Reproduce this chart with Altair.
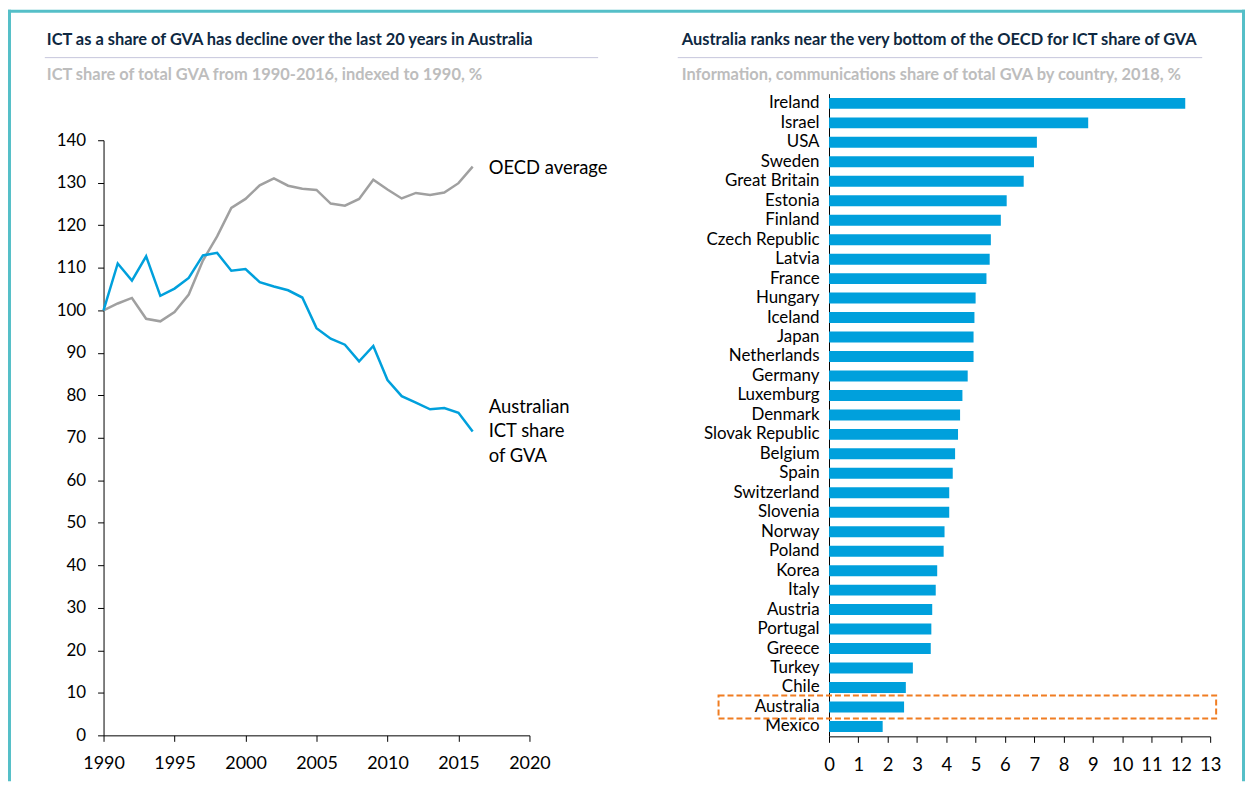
import altair as alt
import pandas as pd

# ---------------- data ----------------
years = list(range(1990, 2017))
oecd = [100, 101.6, 102.9, 98.0, 97.4, 99.6, 103.7, 111.7, 117.4, 124.1, 126.2,
        129.4, 131.0, 129.3, 128.6, 128.3, 125.1, 124.6, 126.2, 130.7, 128.4,
        126.3, 127.6, 127.1, 127.7, 129.9, 133.8]
australia = [100, 111.0, 107.0, 112.7, 103.4, 105.1, 107.6, 112.9, 113.5, 109.3,
             109.7, 106.6, 105.6, 104.7, 103.0, 95.8, 93.3, 91.9, 88.0, 91.6,
             83.6, 79.8, 78.3, 76.7, 77.0, 75.9, 71.5]
series_names = ["OECD average", "Australian ICT share of GVA"]

countries = ["Ireland", "Israel", "USA", "Sweden", "Great Britain", "Estonia",
             "Finland", "Czech Republic", "Latvia", "France", "Hungary", "Iceland",
             "Japan", "Netherlands", "Germany", "Luxemburg", "Denmark",
             "Slovak Republic", "Belgium", "Spain", "Switzerland", "Slovenia",
             "Norway", "Poland", "Korea", "Italy", "Austria", "Portugal", "Greece",
             "Turkey", "Chile", "Australia", "Mexico"]
shares = [12.15, 8.84, 7.09, 6.99, 6.64, 6.06, 5.86, 5.52, 5.48, 5.37, 5.00, 4.96,
          4.93, 4.93, 4.73, 4.55, 4.47, 4.40, 4.30, 4.22, 4.10, 4.10, 3.94, 3.91,
          3.69, 3.64, 3.52, 3.49, 3.47, 2.86, 2.62, 2.56, 1.83]
highlight = "Australia"

year_ticks = [1990, 1995, 2000, 2005, 2010, 2015, 2020]
idx_ticks = list(range(0, 150, 10))
share_ticks = list(range(0, 14))

left_title = "ICT as a share of GVA has decline over the last 20 years in Australia"
left_sub = "ICT share of total GVA from 1990-2016, indexed to 1990, %"
right_title = "Australia ranks near the very bottom of the OECD for ICT share of GVA"
right_sub = "Information, communications share of total GVA by country, 2018, %"

# ---------------- styles ----------------
W, H = 1243, 775
FONT = "Lato"
BLUE = "#00a0dc"
GREY = "#a0a0a0"
NAVY = "#0e2841"
SUBGREY = "#bdbdbd"
TEAL = "#55bfc8"
ORANGE = "#f07d22"

line_df = pd.DataFrame({
    "year": years * 2,
    "value": oecd + australia,
    "series": [series_names[0]] * len(years) + [series_names[1]] * len(years),
})
bar_df = pd.DataFrame({"country": countries, "share": shares})

axis_common = dict(grid=False, domainColor="black", tickColor="black",
                   labelColor="black", labelFont=FONT, title=None,
                   labelFlush=False, labelOverlap=False)

# ---------------- line panel ----------------
lines = alt.Chart(line_df).mark_line(strokeWidth=2.5).encode(
    x=alt.X("year:Q",
            scale=alt.Scale(domain=[1990, 2020], range=[96, 524], nice=False, zero=False),
            axis=alt.Axis(orient="bottom", offset=-46, values=year_ticks, format="d",
                          tickSize=6, labelFontSize=18, labelPadding=13, **axis_common)),
    y=alt.Y("value:Q",
            scale=alt.Scale(domain=[0, 140], range=[729, 131], nice=False),
            axis=alt.Axis(orient="left", offset=-96, values=idx_ticks,
                          tickSize=6, labelFontSize=17, labelPadding=12, **axis_common)),
    color=alt.Color("series:N", scale=alt.Scale(domain=series_names, range=[GREY, BLUE]),
                    legend=None),
)


def txt(s, x, y, size, color, weight="normal", align="left", baseline="middle", **kw):
    return alt.Chart(alt.InlineData(values=[{"t": s}])).mark_text(
        align=align, baseline=baseline, font=FONT, fontSize=size,
        fontWeight=weight, color=color, **kw
    ).encode(x=alt.value(x), y=alt.value(y), text="t:N")


def rule(x, x2, y, y2, color, width):
    return alt.Chart(alt.InlineData(values=[{"a": 1}])).mark_rule(
        color=color, strokeWidth=width
    ).encode(x=alt.value(x), x2=alt.value(x2), y=alt.value(y), y2=alt.value(y2))


oecd_lbl = txt(series_names[0], 483, 159, 18.5, "black")
aus_lbl = alt.Chart(alt.InlineData(values=[{"t": "Australian\nICT share\nof GVA"}])).mark_text(
    align="left", baseline="top", font=FONT, fontSize=18.5, color="black",
    lineBreak="\n", lineHeight=24.5
).encode(x=alt.value(483), y=alt.value(390), text="t:N")

line_panel = alt.layer(lines, oecd_lbl, aus_lbl)

# ---------------- bar panel ----------------
ysc = alt.Scale(domain=countries, range=[84.2, 729.8], paddingInner=0, paddingOuter=0)
bars = alt.Chart(bar_df).mark_bar(size=11, color=BLUE).encode(
    x=alt.X("share:Q",
            scale=alt.Scale(domain=[0, 13], range=[825, 1208], nice=False),
            axis=alt.Axis(orient="bottom", offset=-45, values=share_ticks,
                          tickSize=6, labelFontSize=18.5, labelPadding=13, **axis_common)),
    y=alt.Y("country:N", sort=countries, scale=ysc,
            axis=alt.Axis(orient="left", offset=-825, ticks=False, tickSize=0,
                          labelPadding=10, labelFontSize=17, labelLimit=300, **axis_common)),
)
box = alt.Chart(bar_df).transform_filter(
    alt.datum.country == highlight
).mark_bar(size=23, fillOpacity=0, stroke=ORANGE, strokeWidth=2, strokeDash=[6, 3]).encode(
    y=alt.Y("country:N", sort=countries, scale=ysc),
    x=alt.value(714), x2=alt.value(1214),
)
bar_panel = alt.layer(bars, box)

# ---------------- titles & frame ----------------
deco = [
    txt(left_title, 39, 30, 16.5, NAVY, weight="bold"),
    rule(37, 593, 48, 48, "#c6c6dc", 1),
    txt(left_sub, 39, 65, 16.5, SUBGREY, weight="bold"),
    txt(right_title, 677, 30, 16.5, NAVY, weight="bold"),
    rule(673, 1200, 48, 48, "#c6c6dc", 1),
    txt(right_sub, 677, 65, 16.5, SUBGREY, weight="bold"),
    rule(0, W, 1.5, 1.5, TEAL, 3),
    rule(1.5, 1.5, 0, H, TEAL, 3),
    rule(W - 1.5, W - 1.5, 0, H, TEAL, 3),
]

chart = alt.layer(line_panel, bar_panel, *deco).resolve_scale(
    x="independent", y="independent", color="independent"
).properties(
    width=W, height=H, padding=0,
    autosize=alt.AutoSizeParams(type="none"),
    background="white",
).configure_view(stroke=None)

chart.save("out.html", embed_options={"renderer": "svg", "actions": False})
